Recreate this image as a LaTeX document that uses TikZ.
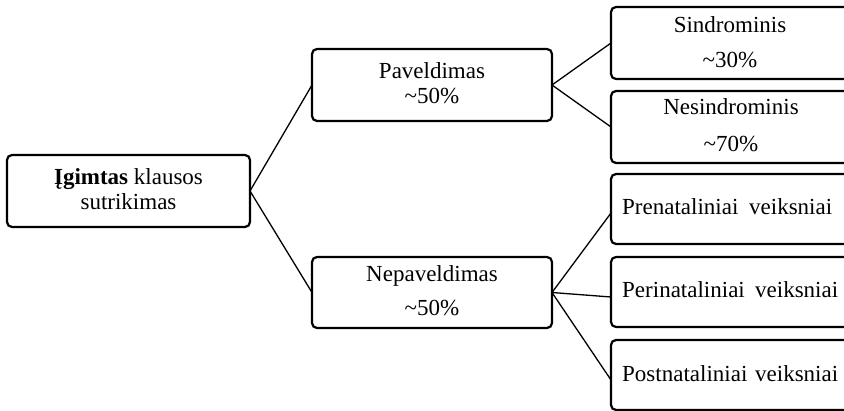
\documentclass[tikz,border=0pt]{standalone}
\usepackage{fontspec}
\setmainfont{Liberation Serif}
\begin{document}
\begin{tikzpicture}[x=1pt,y=-1pt,
  box/.style={draw=black,line width=2.2pt,rounded corners=5pt,inner sep=0pt,outer sep=0pt,rectangle},
  conn/.style={draw=black,line width=1.3pt},
  txt/.style={inner sep=0pt,anchor=base,font=\fontsize{23pt}{27pt}\selectfont}]
\useasboundingbox (0,0) rectangle (844,411);
\clip (0,0) rectangle (844,411);
% boxes
\node[box,minimum width=243pt,minimum height=72pt] (lb) at (128.5,191) {};
\node[box,minimum width=240pt,minimum height=72pt] (pav) at (432,85) {};
\node[box,minimum width=240pt,minimum height=71pt] (nep) at (432,292.5) {};
\node[box,minimum width=249pt,minimum height=72pt] (sin) at (735.5,43) {};
\node[box,minimum width=249pt,minimum height=72pt] (nes) at (735.5,127) {};
\node[box,minimum width=249pt,minimum height=70pt] (pre) at (735.5,209) {};
\node[box,minimum width=249pt,minimum height=70pt] (per) at (735.5,292) {};
\node[box,minimum width=249pt,minimum height=70pt] (post) at (735.5,375) {};
% texts
\node[txt] (lb1) at (128.5,185) {\textbf{Įgimtas} klausos};
\node[txt] (lb2) at (128.5,210) {sutrikimas};
\node[txt] (pav1) at (432,79) {Paveldimas};
\node[txt] (pav2) at (432,104) {\textasciitilde50\%};
\node[txt] (nep1) at (432,282) {Nepaveldimas};
\node[txt] (nep2) at (432,316) {\textasciitilde50\%};
\node[txt] (sin1) at (730,33) {Sindrominis};
\node[txt] (sin2) at (730,68) {\textasciitilde30\%};
\node[txt] (nes1) at (731,115) {Nesindrominis};
\node[txt] (nes2) at (731,152) {\textasciitilde70\%};
\node[txt,anchor=base west] (pre1) at (622,215) {\makebox[210pt][s]{Prenataliniai veiksniai}};
\node[txt,anchor=base west] (per1) at (622,298) {\makebox[216pt][s]{Perinataliniai veiksniai}};
\node[txt,anchor=base west] (post1) at (622,382) {\makebox[216pt][s]{Postnataliniai veiksniai}};
% connectors
\draw[conn] (lb.east) -- (pav.west);
\draw[conn] (lb.east) -- (nep.west);
\draw[conn] (pav.east) -- (sin.west);
\draw[conn] (pav.east) -- (nes.west);
\draw[conn] (nep.east) -- ([yshift=-4pt]pre.west);
\draw[conn] (nep.east) -- ([yshift=-5pt]per.west);
\draw[conn] (nep.east) -- ([yshift=-5pt]post.west);
\end{tikzpicture}
\end{document}
